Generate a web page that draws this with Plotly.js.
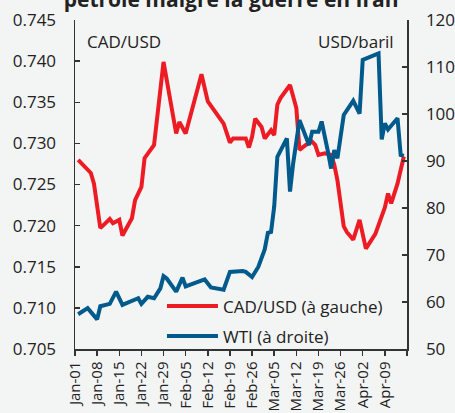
<!DOCTYPE html>
<html><head><meta charset="utf-8">
<script src="https://cdn.plot.ly/plotly-3.0.1.min.js"></script>
<style>html,body{margin:0;padding:0;background:#f3f4f4;} #chart{width:455px;height:413px;}</style>
</head><body><div id="chart"></div>
<script>
const chartTitle = 'pétrole malgré la guerre en Iran';
const cadName = 'CAD/USD (à gauche)';
const wtiName = 'WTI (à droite)';
const leftLabel = 'CAD/USD';
const rightLabel = 'USD/baril';

const cadDates = ['2026-01-02','2026-01-06','2026-01-07','2026-01-08','2026-01-09','2026-01-12','2026-01-13','2026-01-15','2026-01-16','2026-01-19','2026-01-20','2026-01-22','2026-01-23','2026-01-26','2026-01-29','2026-02-02','2026-02-03','2026-02-05','2026-02-10','2026-02-12','2026-02-17','2026-02-19','2026-02-20','2026-02-23','2026-02-24','2026-02-25','2026-02-26','2026-02-27','2026-03-01','2026-03-02','2026-03-04','2026-03-05','2026-03-06','2026-03-07','2026-03-10','2026-03-11','2026-03-12','2026-03-13','2026-03-15','2026-03-17','2026-03-18','2026-03-19','2026-03-21','2026-03-23','2026-03-24','2026-03-25','2026-03-26','2026-03-27','2026-03-28','2026-03-30','2026-04-01','2026-04-03','2026-04-06','2026-04-09','2026-04-10','2026-04-11','2026-04-13','2026-04-15'];
const cadValues = [0.7280,0.7264,0.7251,0.7219,0.7197,0.7208,0.7203,0.7207,0.7188,0.7209,0.7231,0.7247,0.7282,0.7298,0.7399,0.7312,0.7326,0.7312,0.7384,0.7351,0.7324,0.7301,0.7306,0.7306,0.7306,0.7295,0.7308,0.7330,0.7320,0.7306,0.7316,0.7310,0.7347,0.7355,0.7371,0.7357,0.7343,0.7292,0.7298,0.7302,0.7298,0.7286,0.7288,0.7286,0.7274,0.7255,0.7225,0.7199,0.7192,0.7183,0.7207,0.7172,0.7190,0.7222,0.7239,0.7227,0.7251,0.7284];

const wtiDates = ['2026-01-02','2026-01-05','2026-01-08','2026-01-09','2026-01-12','2026-01-14','2026-01-16','2026-01-21','2026-01-22','2026-01-24','2026-01-26','2026-01-28','2026-01-29','2026-01-30','2026-02-02','2026-02-04','2026-02-05','2026-02-08','2026-02-09','2026-02-11','2026-02-13','2026-02-17','2026-02-19','2026-02-23','2026-02-24','2026-02-26','2026-02-28','2026-03-02','2026-03-03','2026-03-04','2026-03-05','2026-03-06','2026-03-09','2026-03-10','2026-03-11','2026-03-13','2026-03-16','2026-03-17','2026-03-19','2026-03-20','2026-03-22','2026-03-23','2026-03-24','2026-03-25','2026-03-27','2026-03-30','2026-04-01','2026-04-02','2026-04-07','2026-04-08','2026-04-09','2026-04-10','2026-04-13','2026-04-14','2026-04-15'];
const wtiValues = [57.4,58.7,56.3,59.1,59.6,62.2,59.4,60.8,59.6,61.1,60.8,62.9,65.5,65.0,62.2,65.2,63.3,64.0,64.3,64.8,63.1,62.6,66.4,66.6,66.4,65.3,67.5,71.2,74.7,74.9,80.3,90.9,94.8,83.5,89.5,98.7,93.4,96.2,96.2,98.4,92.0,88.4,92.3,90.6,99.8,102.8,100.1,111.5,112.9,94.6,98.0,96.7,99.1,91.3,91.1];

const tickDates = ['2026-01-01','2026-01-08','2026-01-15','2026-01-22','2026-01-29','2026-02-05','2026-02-12','2026-02-19','2026-02-26','2026-03-05','2026-03-12','2026-03-19','2026-03-26','2026-04-02','2026-04-09','2026-04-16'];
const tickLabels = ['Jan-01','Jan-08','Jan-15','Jan-22','Jan-29','Feb-05','Feb-12','Feb-19','Feb-26','Mar-05','Mar-12','Mar-19','Mar-26','Apr-02','Apr-09',''];

const bg = '#f3f4f4';
const axisColor = '#333333';
const textColor = '#222222';

const traces = [
  {x: cadDates, y: cadValues, name: cadName, type: 'scatter', mode: 'lines', yaxis: 'y',
   line: {color: '#ed1c24', width: 4}, legendgroup: 'a'},
  {x: wtiDates, y: wtiValues, name: wtiName, type: 'scatter', mode: 'lines', yaxis: 'y2',
   line: {color: '#005a8c', width: 4}, legendgroup: 'b'}
];

const layout = {
  width: 455, height: 413,
  paper_bgcolor: bg, plot_bgcolor: bg,
  margin: {l: 75, r: 48, t: 20, b: 64},
  font: {family: 'Open Sans', size: 17, color: textColor},
  title: {text: chartTitle, font: {family: 'Open Sans', size: 21, weight: 700, color: textColor},
          x: 0.508, xanchor: 'center', xref: 'container', y: 0.983, yref: 'container', yanchor: 'bottom'},
  showlegend: true,
  legend: {x: 0.262, y: 0.184, xanchor: 'left', yanchor: 'top', bgcolor: 'rgba(0,0,0,0)',
           itemwidth: 51, traceorder: 'grouped', tracegroupgap: 5, font: {size: 17, color: textColor}},
  xaxis: {type: 'date', range: ['2026-01-01', '2026-04-16'], tickmode: 'array', tickvals: tickDates,
          ticktext: tickLabels, tickangle: -90, ticks: 'outside', ticklen: 5, tickcolor: axisColor,
          tickwidth: 1.5, showline: true, linecolor: axisColor, linewidth: 1.5, showgrid: false,
          zeroline: false, tickfont: {size: 15, color: textColor}, fixedrange: true},
  yaxis: {range: [0.705, 0.745], tickmode: 'linear', tick0: 0.705, dtick: 0.005, tickformat: '.3f',
          ticks: 'inside', ticklen: 5, tickcolor: axisColor, tickwidth: 1.5, showline: true,
          linecolor: axisColor, linewidth: 1.5, showgrid: false, zeroline: false,
          ticklabelstandoff: 14, tickfont: {size: 17, color: textColor}},
  yaxis2: {range: [50, 120], tickmode: 'linear', tick0: 50, dtick: 10, overlaying: 'y', side: 'right',
           ticks: 'inside', ticklen: 5, tickcolor: axisColor, tickwidth: 1.5, showline: true,
           linecolor: axisColor, linewidth: 1.5, showgrid: false, zeroline: false,
           ticklabelstandoff: 14, tickfont: {size: 17, color: textColor}},
  annotations: [
    {text: leftLabel, xref: 'paper', yref: 'paper', x: 0.03, y: 0.936, xanchor: 'left', yanchor: 'middle',
     showarrow: false, font: {size: 17, color: textColor}},
    {text: rightLabel, xref: 'paper', yref: 'paper', x: 0.967, y: 0.936, xanchor: 'right', yanchor: 'middle',
     showarrow: false, font: {size: 17, color: textColor}}
  ]
};

Plotly.newPlot('chart', traces, layout, {displayModeBar: false, staticPlot: true});
</script>
</body></html>
